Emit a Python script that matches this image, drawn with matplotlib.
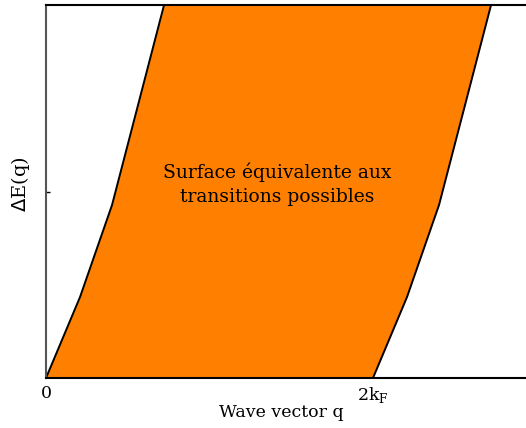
import matplotlib.pyplot as plt
import numpy as np

plt.rcParams['font.family'] = ['DejaVu Serif']

# dispersion edge of the transition region (q in units of k_F, energy normalised)
q_edge = [0.0, 0.208, 0.404, 0.722]
e_edge = [0.0, 0.217, 0.464, 1.0]
shift = 2.0  # 2k_F

xticks = [0, 2]
xticklabels = ['0', r'2k$_\mathregular{F}$']

fig = plt.figure(figsize=(5.26, 4.28), dpi=100)
ax = fig.add_axes([46 / 526, 50 / 428, 480 / 526, 373 / 428])

left_q = np.array(q_edge)
right_q = np.array(q_edge) + shift
e = np.array(e_edge)

poly_x = np.concatenate([left_q, right_q[::-1]])
poly_y = np.concatenate([e, e[::-1]])
ax.fill(poly_x, poly_y, color='#ff8000', lw=0)
ax.plot(left_q, e, color='black', lw=1.4)
ax.plot(right_q, e, color='black', lw=1.4)

ax.set_xlim(0, 480 / 163.5)
ax.set_ylim(0, 1)

ax.set_xticks(xticks)
ax.set_xticklabels(xticklabels, fontsize=12.5)
ax.tick_params(axis='x', length=0, pad=5)
ax.set_yticks([0.5])
ax.set_yticklabels([])
ax.tick_params(axis='y', direction='in', length=3, width=1)

ax.spines['right'].set_visible(False)
ax.spines['left'].set_color('#555555')
ax.spines['left'].set_linewidth(1.5)
ax.spines['top'].set_linewidth(1.5)
ax.spines['bottom'].set_linewidth(1.5)

ax.set_ylabel(r'$\Delta$E(q)', fontsize=14)
ax.yaxis.set_label_coords(-0.03, 0.52)
ax.set_xlabel('Wave vector q', fontsize=12.5)
ax.xaxis.set_label_coords(0.49, -0.07)

ax.text(1.417, 0.52, 'Surface équivalente aux\ntransitions possibles',
        ha='center', va='center', fontsize=13.5, linespacing=1.45)

fig.savefig('out.png', dpi=100)
